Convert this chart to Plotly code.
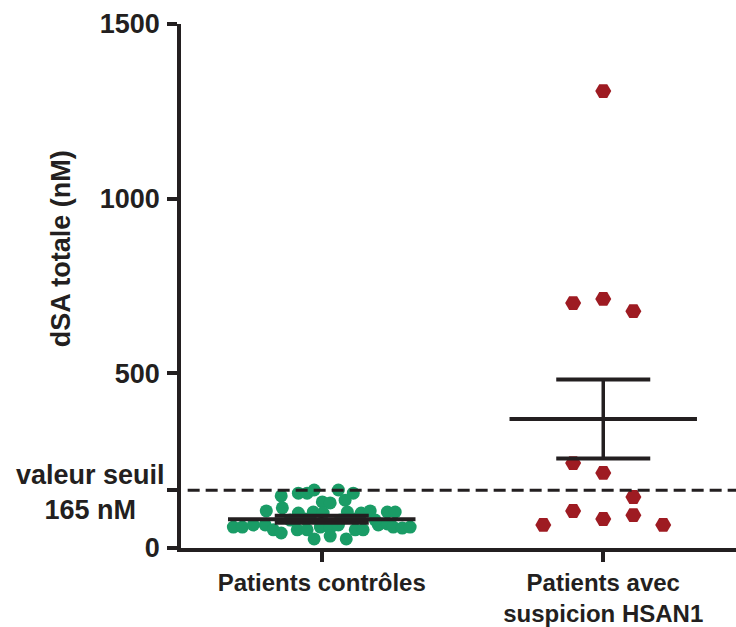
import plotly.graph_objects as go

# ---------------- data ----------------
categories = ["Patients contrôles", "Patients avec<br>suspicion HSAN1"]

# controls (nM) and horizontal jitter (category units)
control_values = [149, 157, 157, 166, 166, 157, 137, 132, 129,
                  106, 115, 100, 103, 100, 103, 100, 106, 103, 103,
                  60, 60, 66, 66, 52, 43, 52, 52, 60, 57, 66, 52, 52, 66, 69, 60, 57, 60,
                  26, 34, 26,
                  80, 83, 80, 83, 80]
control_jitter = [-0.144, -0.083, -0.052, -0.027, 0.059, 0.112, 0.083, 0.002, 0.030,
                  -0.197, -0.140, -0.083, -0.030, 0.005, 0.091, 0.140, 0.172, 0.233, 0.261,
                  -0.314, -0.282, -0.243, -0.201, -0.172, -0.144, -0.087, -0.052, -0.005, 0.030,
                  0.059, 0.119, 0.147, 0.201, 0.233, 0.254, 0.286, 0.314,
                  -0.027, 0.030, 0.087,
                  -0.112, -0.059, 0.066, 0.119, 0.190]

# suspected HSAN1 patients (nM)
hsan_values = [701, 1308, 713, 678, 243, 215, 146, 106, 83, 94, 66, 66]
hsan_jitter = [-0.107, 0.0, 0.0, 0.107, -0.107, 0.0, 0.107, -0.107, 0.0, 0.107, -0.213, 0.213]

# mean and SEM per group
group_means = [82, 369]
group_sems = [10, 113]

threshold = 165
y_tickvals = [0, 165, 500, 1000, 1500]
y_ticktext = ["0", "", "500", "1000", "1500"]

# ---------------- style ----------------
INK = "#231f20"
GREEN = "#1a9c66"
RED = "#9e1b22"
FONT = "Liberation Sans, Arial, sans-serif"

fig = go.Figure()

fig.add_trace(go.Scatter(
    x=[0 + j for j in control_jitter], y=control_values, mode="markers",
    marker=dict(symbol="circle", size=13, color=GREEN, line=dict(width=0)),
    hoverinfo="y", showlegend=False, cliponaxis=False))

fig.add_trace(go.Scatter(
    x=[1 + j for j in hsan_jitter], y=hsan_values, mode="markers",
    marker=dict(symbol="hexagon2", size=16, color=RED, line=dict(width=0)),
    hoverinfo="y", showlegend=False, cliponaxis=False))

MEAN_HW = 0.333
CAP_HW = 0.167
for i, (m, s) in enumerate(zip(group_means, group_sems)):
    # vertical SEM bar
    fig.add_trace(go.Scatter(x=[i, i], y=[m - s, m + s], mode="lines",
                             line=dict(color=INK, width=3.5), hoverinfo="skip", showlegend=False))
    # caps
    for yy in (m - s, m + s):
        fig.add_trace(go.Scatter(x=[i - CAP_HW, i + CAP_HW], y=[yy, yy], mode="lines",
                                 line=dict(color=INK, width=4), hoverinfo="skip", showlegend=False))
    # mean
    fig.add_trace(go.Scatter(x=[i - MEAN_HW, i + MEAN_HW], y=[m, m], mode="lines",
                             line=dict(color=INK, width=4), hoverinfo="skip", showlegend=False))

# threshold dashed line
fig.add_shape(type="line", xref="paper", x0=0.012, x1=1, yref="y", y0=threshold, y1=threshold,
              line=dict(color=INK, width=3, dash="12px,6px"), layer="above")

# threshold label
fig.add_annotation(xref="paper", x=0, xshift=-14, xanchor="right", yref="y", y=threshold,
                   yshift=-2, yanchor="middle", text="valeur seuil<br>165 nM", align="center",
                   showarrow=False, font=dict(family=FONT, size=27, color=INK, weight="bold"))

# y-axis title
fig.add_annotation(xref="paper", x=0, xshift=-120, xanchor="center", yref="paper", y=0.57,
                   yanchor="middle", text="dSA totale (nM)", textangle=-90, showarrow=False,
                   font=dict(family=FONT, size=27, color=INK, weight="bold"))

fig.update_layout(
    width=736, height=627,
    margin=dict(l=181, r=0, t=24, b=79),
    plot_bgcolor="white", paper_bgcolor="white",
    font=dict(family=FONT, color=INK),
    xaxis=dict(range=[-0.5, 1.4716], tickvals=[0, 1], ticktext=categories,
               showline=True, linecolor=INK, linewidth=3.5, ticks="outside", ticklen=10,
               tickwidth=3.5, tickcolor=INK, showgrid=False, zeroline=False,
               tickfont=dict(family=FONT, size=24, color=INK, weight="bold"),
               ticklabelstandoff=0, automargin=False),
    yaxis=dict(range=[0, 1500], tickvals=y_tickvals, ticktext=y_ticktext,
               showline=True, linecolor=INK, linewidth=3.5, ticks="outside", ticklen=10,
               tickwidth=3.5, tickcolor=INK, showgrid=False, zeroline=False,
               tickfont=dict(family=FONT, size=27, color=INK, weight="bold"),
               ticklabelstandoff=2, automargin=False),
)

fig.write_html("out.html")
